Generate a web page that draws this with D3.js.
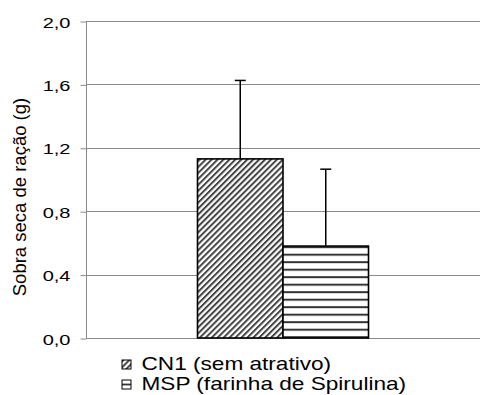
<!DOCTYPE html>
<html lang="pt">
<head>
<meta charset="utf-8">
<title>Sobra seca de ração</title>
<script src="https://cdn.jsdelivr.net/npm/d3@7"></script>
<style>
  body { margin: 0; background: #fff; }
  svg { display: block; font-family: "Liberation Sans", Arial, sans-serif; }
</style>
</head>
<body>
<svg id="chart" width="481" height="395"></svg>
<script>
// data
var categories = [""];
var series = ["CN1 (sem atrativo)", "MSP (farinha de Spirulina)"];
var means = [1.13, 0.58];
var errors = [0.495, 0.485];
var yTicks = [0, 0.4, 0.8, 1.2, 1.6, 2.0];

var svg = d3.select("#chart");
var margin = {left: 86, right: 1, top: 21, bottom: 57};
var W = 481, H = 395;

var y = d3.scaleLinear().domain([0, 2]).range([H - margin.bottom, margin.top]);
var x0 = d3.scaleBand().domain(categories).range([margin.left, W - margin.right])
  .paddingInner(0).paddingOuter(0.652);
var x1 = d3.scaleBand().domain(series).range([0, x0.bandwidth()]);

// patterns
var defs = svg.append("defs");
var diag = defs.append("pattern").attr("id", "diag")
  .attr("patternUnits", "userSpaceOnUse")
  .attr("width", 4.2).attr("height", 4.2)
  .attr("patternTransform", "rotate(45)");
diag.append("rect").attr("width", 4.2).attr("height", 4.2).attr("fill", "#fff");
diag.append("rect").attr("width", 2).attr("height", 4.2).attr("fill", "#444");

var horiz = defs.append("pattern").attr("id", "horiz")
  .attr("patternUnits", "userSpaceOnUse")
  .attr("width", 8).attr("height", 7.5)
  .attr("y", 6.2);
horiz.append("rect").attr("width", 8).attr("height", 7.5).attr("fill", "#fff");
horiz.append("rect").attr("width", 8).attr("height", 2).attr("fill", "#333");

// legend version of the stripes: one line through the middle of the box
var horizL = defs.append("pattern").attr("id", "horizL")
  .attr("patternUnits", "objectBoundingBox")
  .attr("width", 1).attr("height", 1);
horizL.append("rect").attr("width", 20).attr("height", 20).attr("fill", "#fff");
horizL.append("rect").attr("y", 3.6).attr("width", 20).attr("height", 1.8).attr("fill", "#333");

var fills = ["url(#diag)", "url(#horiz)"];
var legFills = ["url(#diag)", "url(#horizL)"];

// gridlines
svg.append("g").selectAll("line").data(yTicks).join("line")
  .attr("x1", margin.left).attr("x2", W - margin.right)
  .attr("y1", d => Math.round(y(d)) + 0.5).attr("y2", d => Math.round(y(d)) + 0.5)
  .attr("stroke", "#8a8a8a").attr("stroke-width", 1);

// y axis
var yAxis = d3.axisLeft(y).tickValues(yTicks)
  .tickFormat(d => d3.format(".1f")(d).replace(".", ","))
  .tickSize(6);
var gy = svg.append("g").attr("transform", "translate(" + (margin.left + 0.5) + ",0.5)").call(yAxis);
gy.select(".domain").attr("stroke", "#8a8a8a").attr("d", "M0," + y(2) + "V" + y(0));
gy.selectAll(".tick line").attr("stroke", "#8a8a8a");
gy.selectAll(".tick text")
  .attr("x", null)
  .attr("transform", "translate(-16,1) scale(1.38,1)")
  .attr("font-size", 14.5).attr("fill", "#000")
  .attr("font-family", "Liberation Sans, Arial, sans-serif");

// y label
svg.append("text")
  .attr("transform", "translate(26,197) rotate(-90)")
  .attr("text-anchor", "middle").attr("font-size", 18.5).attr("fill", "#000")
  .text("Sobra seca de ração (g)");

// bars
var g = svg.append("g").attr("transform", "translate(" + x0(categories[0]) + ",0)");
g.selectAll("rect").data(series).join("rect")
  .attr("x", d => x1(d))
  .attr("y", (d, i) => y(means[i]))
  .attr("width", x1.bandwidth())
  .attr("height", (d, i) => y(0) - y(means[i]))
  .attr("fill", (d, i) => fills[i])
  .attr("stroke", "#000").attr("stroke-width", 1.6);

// error bars (upper only)
var eb = g.selectAll("g.err").data(series).join("g").attr("class", "err");
eb.append("line")
  .attr("x1", d => x1(d) + x1.bandwidth() / 2).attr("x2", d => x1(d) + x1.bandwidth() / 2)
  .attr("y1", (d, i) => y(means[i])).attr("y2", (d, i) => y(means[i] + errors[i]))
  .attr("stroke", "#000").attr("stroke-width", 1.5);
eb.append("line")
  .attr("x1", d => x1(d) + x1.bandwidth() / 2 - 5.5).attr("x2", d => x1(d) + x1.bandwidth() / 2 + 5.5)
  .attr("y1", (d, i) => y(means[i] + errors[i])).attr("y2", (d, i) => y(means[i] + errors[i]))
  .attr("stroke", "#000").attr("stroke-width", 1.5);

// legend
var leg = svg.append("g").attr("transform", "translate(122,360)");
var items = leg.selectAll("g").data(series).join("g")
  .attr("transform", (d, i) => "translate(0," + (i * 20) + ")");
items.append("rect").attr("width", 9).attr("height", 9)
  .attr("fill", (d, i) => legFills[i]).attr("stroke", "#000").attr("stroke-width", 1);
items.append("text")
  .attr("transform", "translate(19.5,9.5) scale(1.19,1)")
  .attr("font-size", 19).attr("fill", "#000").text(d => d);
</script>
</body>
</html>
